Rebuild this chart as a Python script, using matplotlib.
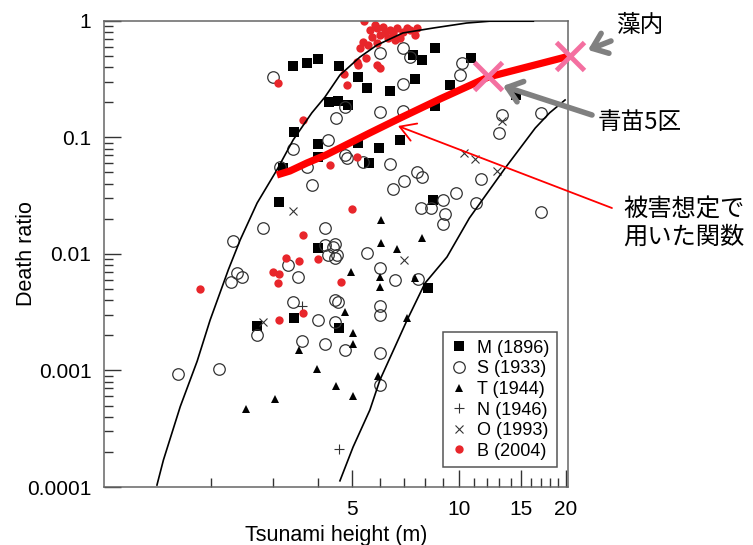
import matplotlib
matplotlib.use('Agg')
import matplotlib.pyplot as plt
from matplotlib.ticker import FixedLocator, NullFormatter

plt.rcParams['font.family'] = ['Liberation Sans', 'DejaVu Sans']

# --- data: tsunami height (m), death ratio ---
m_h = [3.41, 3.73, 4.01, 4.59, 5.19, 5.51, 4.30, 4.56, 4.86, 6.39, 7.42, 7.87, 8.56, 7.52, 9.43, 10.8, 8.56,
       14.5, 3.43, 4.01, 4.01, 5.19, 5.95, 6.82, 5.58, 3.19, 3.11, 4.01, 8.45, 8.18, 2.70, 3.43, 4.59]
m_r = [0.409, 0.434, 0.47, 0.409, 0.329, 0.265, 0.201, 0.204, 0.189, 0.25, 0.508, 0.46, 0.583, 0.316, 0.281,
       0.479, 0.185, 0.23, 0.111, 0.0877, 0.0678, 0.0893, 0.081, 0.095, 0.0602, 0.0546, 0.0279, 0.0112, 0.029,
       0.0051, 0.0024, 0.0028, 0.0023]

s_h = [2.99, 5.99, 6.95, 7.28, 10.2, 10.07, 6.95, 4.77, 4.51, 5.99, 6.95, 13.2, 13.0, 17.0, 4.28, 3.41, 3.13,
       3.73, 3.85, 4.77, 4.83, 5.37, 6.39, 7.00, 6.52, 7.62, 7.87, 9.81, 9.01, 7.82, 8.34, 9.13, 9.01, 11.5,
       11.2, 17.0, 2.80, 4.19, 2.31, 4.19, 4.42, 4.28, 4.48, 5.51, 3.30, 3.52, 4.48, 4.53, 5.99, 6.60, 7.67,
       2.37, 2.28, 2.44, 3.41, 4.48, 4.56, 5.99, 5.99, 1.62, 2.11, 2.70, 3.61, 4.01, 4.19, 4.48, 4.77, 5.99, 5.99]
s_r = [0.329, 0.528, 0.583, 0.488, 0.434, 0.342, 0.286, 0.182, 0.146, 0.165, 0.168, 0.155, 0.109, 0.162,
       0.0948, 0.0794, 0.0556, 0.0556, 0.039, 0.0705, 0.0664, 0.0614, 0.059, 0.0422, 0.036, 0.0504, 0.0457,
       0.0333, 0.029, 0.0248, 0.0248, 0.022, 0.018, 0.0439, 0.0273, 0.0229, 0.0167, 0.0167, 0.0129, 0.0119,
       0.0115, 0.0098, 0.0092, 0.0102, 0.008, 0.0063, 0.0122, 0.0098, 0.0076, 0.006, 0.0061, 0.0068, 0.0057,
       0.0063, 0.0039, 0.004, 0.0039, 0.0036, 0.003, 0.00093, 0.00103, 0.002, 0.0018, 0.0027, 0.0017, 0.0026,
       0.0015, 0.0014, 0.00075]

t_h = [6.03, 7.87, 6.03, 6.69, 4.96, 5.99, 5.99, 7.52, 4.77, 7.14, 5.03, 5.03, 3.54, 3.98, 4.51, 5.03, 2.51,
       3.03, 5.91]
t_r = [0.0195, 0.0137, 0.0124, 0.011, 0.007, 0.0063, 0.0052, 0.0062, 0.0032, 0.0028, 0.0021, 0.0017, 0.0015,
       0.00103, 0.00074, 0.0006, 0.00047, 0.00057, 0.0009]

n_h = [4.59, 3.61]
n_r = [0.00021, 0.0036]

o_h = [3.41, 2.80, 7.00, 10.3, 11.1, 12.8, 13.2]
o_r = [0.0233, 0.0026, 0.0089, 0.0733, 0.0651, 0.0514, 0.138]

b_h = [5.40, 5.61, 5.88, 6.11, 6.39, 6.69, 6.95, 7.28, 7.62, 5.69, 5.99, 6.31, 6.60, 5.37, 5.26, 5.54, 5.88,
       6.52, 7.14, 5.47, 5.16, 5.19, 5.88, 5.99, 4.74, 4.83, 3.09, 3.64, 4.33, 5.16, 5.00, 3.64, 3.26, 3.54,
       4.01, 2.99, 3.11, 3.09, 1.86, 4.65, 3.11, 3.64, 6.82, 6.19, 7.52, 5.80]
b_r = [0.99, 0.832, 0.865, 0.88, 0.832, 0.865, 0.80, 0.832, 0.865, 0.725, 0.754, 0.71, 0.683, 0.657, 0.583,
       0.619, 0.645, 0.785, 0.865, 0.479, 0.443, 0.417, 0.417, 0.393, 0.349, 0.281, 0.292, 0.141, 0.0579,
       0.0678, 0.0243, 0.0145, 0.0092, 0.0087, 0.009, 0.007, 0.0067, 0.0056, 0.005, 0.0057, 0.0027, 0.0031,
       0.71, 0.785, 0.754, 0.918]

# envelope curves
upper_h = [1.41, 1.47, 1.64, 1.83, 1.99, 2.24, 2.42, 2.70, 3.07, 3.41, 3.85, 4.19, 4.62, 5.26, 5.88, 6.95,
           8.45, 10.5, 12.2, 16.2]
upper_r = [0.000104, 0.00017, 0.00049, 0.0012, 0.0027, 0.0073, 0.0132, 0.0273, 0.0525, 0.0948, 0.162, 0.221,
           0.342, 0.488, 0.619, 0.785, 0.865, 0.955, 0.99, 0.99]
lower_h = [4.62, 5.03, 5.61, 5.99, 6.60, 7.14, 8.02, 9.25, 10.7, 13.5, 16.4, 18.0, 19.9]
lower_r = [0.000113, 0.00022, 0.000458, 0.00083, 0.00159, 0.0027, 0.0056, 0.0094, 0.0203, 0.0546, 0.120,
           0.162, 0.209]

# function used in the damage estimate
func_h = [3.07, 3.34, 3.73, 4.22, 4.62, 5.61, 6.82, 8.84, 12.1, 20.5]
func_r = [0.0475, 0.0514, 0.0602, 0.0705, 0.081, 0.109, 0.146, 0.213, 0.329, 0.498]

# 青苗5区, 藻内
site_h = [12.1, 20.5]
site_r = [0.336, 0.50]

fig = plt.figure(figsize=(7.53, 5.45), dpi=100)
ax = fig.add_axes([0.1381, 0.1064, 0.6162, 0.8556])

ax.plot(m_h, m_r, ls='none', marker='s', ms=6.8, mfc='black', mec='black', mew=0, label='M (1896)', zorder=2)
ax.plot(s_h, s_r, ls='none', marker='o', ms=8.3, mfc='none', mec='#333333', mew=0.9, label='S (1933)', zorder=2)
ax.plot(t_h, t_r, ls='none', marker='^', ms=6.2, mfc='black', mec='black', mew=0, label='T (1944)', zorder=2)
ax.plot(n_h, n_r, ls='none', marker='+', ms=6.5, mec='#333333', mew=0.8, label='N (1946)', zorder=2)
ax.plot(o_h, o_r, ls='none', marker='x', ms=5.5, mec='#333333', mew=0.8, label='O (1993)', zorder=2)
ax.plot(b_h, b_r, ls='none', marker='o', ms=6.0, mfc='#E8262B', mec='#E8262B', mew=0, label='B (2004)', zorder=2)

ax.plot(upper_h, upper_r, color='black', lw=1.2, zorder=3)
ax.plot(lower_h, lower_r, color='black', lw=1.2, zorder=3)

ax.plot(func_h, func_r, color='#FF0000', lw=5.2, solid_capstyle='butt', zorder=4, clip_on=False)
ax.plot(site_h, site_r, ls='none', marker='x', ms=20, mew=3.5, color='#F46FA0', zorder=5, clip_on=False)

ax.set_xscale('log')
ax.set_yscale('log')
ax.set_xlim(1, 20.28)
ax.set_ylim(0.0001, 1)

ax.xaxis.set_major_locator(FixedLocator([5, 10, 15, 20]))
ax.xaxis.set_minor_locator(FixedLocator([2, 3, 4, 6, 7, 8, 9, 11, 12, 13, 14, 16, 17, 18, 19]))
ax.xaxis.set_minor_formatter(NullFormatter())
ax.set_xticklabels(['5', '10', '15', '20'])
ax.set_yticks([0.0001, 0.001, 0.01, 0.1, 1])
ax.set_yticklabels(['0.0001', '0.001', '0.01', '0.1', '1'])

ax.tick_params(which='major', direction='in', length=12, width=1.0, labelsize=15, pad=9, color='#333333')
ax.tick_params(which='minor', direction='in', length=6.5, width=1.0, color='#333333')
for sp in ax.spines.values():
    sp.set_color('#666666')
    sp.set_linewidth(1.1)

ax.set_xlabel('Tsunami height (m)', fontsize=15.5, labelpad=5)
ax.set_ylabel('Death ratio', fontsize=15.5)
ax.yaxis.set_label_coords(-0.145, 0.5)

leg = ax.legend(loc='lower right', bbox_to_anchor=(0.976, 0.043), borderaxespad=0, fontsize=13,
                fancybox=False, edgecolor='#555555', framealpha=1, handlelength=1.0, handletextpad=0.5,
                labelspacing=0.2, borderpad=0.4)
leg.get_frame().set_linewidth(1.1)

# annotations
jp = ['Noto Sans CJK JP', 'DejaVu Sans']
fig.text(0.8194, 0.953, '藻内', family=jp, fontsize=17, ha='left', va='center')
fig.text(0.7942, 0.7761, '青苗5区', family=jp, fontsize=17, ha='left', va='center')
fig.text(0.8274, 0.5908, '被害想定で\n用いた関数', family=jp, fontsize=17.5, ha='left', va='center',
         linespacing=1.05)

gray_arrow = dict(arrowstyle='->,head_length=0.45,head_width=0.35', lw=4, color='#808080',
                  mutation_scale=22, shrinkA=0, shrinkB=0)
ax.annotate('', xy=(0.7809, 0.9083), xytext=(0.8114, 0.9248), xycoords='figure fraction',
            textcoords='figure fraction', arrowprops=gray_arrow, annotation_clip=False)
ax.annotate('', xy=(0.668, 0.8422), xytext=(0.7862, 0.789), xycoords='figure fraction',
            textcoords='figure fraction', arrowprops=gray_arrow, annotation_clip=False)
ax.annotate('', xy=(0.5286, 0.7688), xytext=(0.8127, 0.6183), xycoords='figure fraction',
            textcoords='figure fraction',
            arrowprops=dict(arrowstyle='->,head_length=0.5,head_width=0.3', lw=1.3, color='#FF0000',
                            mutation_scale=22, shrinkA=0, shrinkB=0), annotation_clip=False)

fig.savefig('out.png', dpi=100)
